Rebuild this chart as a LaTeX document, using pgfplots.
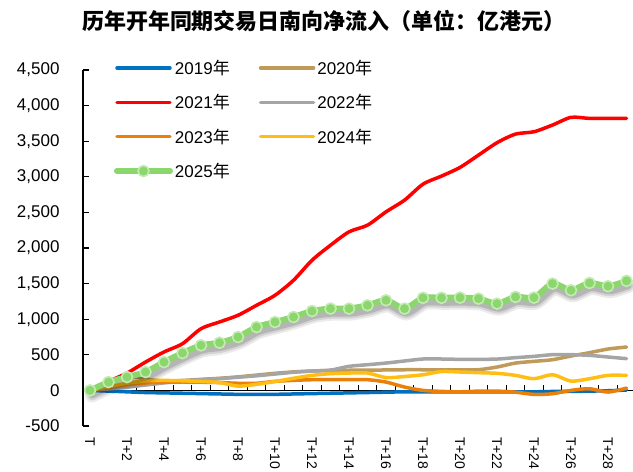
\documentclass[border=0pt]{standalone}
\usepackage{fontspec}
\usepackage{pgfplots}
\usepackage{pgfplotstable}
\pgfplotsset{compat=1.18}
\setmainfont{Liberation Sans}
\newfontfamily\cjk{Noto Sans CJK SC}

\definecolor{c19}{RGB}{0,112,192}
\definecolor{c20}{RGB}{191,154,88}
\definecolor{c21}{RGB}{255,0,0}
\definecolor{c22}{RGB}{165,165,165}
\definecolor{c23}{RGB}{234,128,10}
\definecolor{c24}{RGB}{255,190,20}
\definecolor{c25}{RGB}{140,214,110}
\definecolor{c25m}{RGB}{195,236,178}

\pgfplotstableread{
i  y19  y20  y21  y22  y23  y24  y25
0  0    0    0    0    0    0    0
1  -10  110  127  20   40   50   117
2  -20  200  243  45   80   100  187
3  -30  160  398  75   105  135  258
4  -35  130  540  105  115  140  398
5  -40  140  656  130  118  135  525
6  -45  155  867  150  115  125  633
7  -50  170  961  165  110  110  670
8  -55  190  1055 185  100  60   750
9  -55  215  1195 205  100  85   890
10 -55  240  1336 230  127  125  960
11 -50  260  1547 255  141  170  1031
12 -45  272  1828 272  150  211  1115
13 -40  280  2039 285  150  235  1149
14 -35  283  2227 338  150  244  1149
15 -30  285  2321 361  150  244  1195
16 -25  287  2508 384  117  180  1266
17 -20  290  2672 413  47   195  1149
18 -20  290  2897 441  0    220  1300
19 -20  290  3010 441  -14  265  1300
20 -20  290  3132 436  -20  258  1303
21 -20  291  3305 436  -10  249  1289
22 -20  328  3479 440  -10  240  1219
23 -20  384  3600 460  -25  211  1313
24 -20  408  3633 478  -56  164  1303
25 -15  431  3727 502  -47  220  1500
26 -15  483  3835 502  0    131  1406
27 -10  530  3820 492  23   164  1509
28 -5   581  3820 469  -23  211  1463
29 5    609  3820 446  33   211  1538
}\data

\begin{document}
\begin{tikzpicture}
\begin{axis}[
  at={(83pt,46pt)}, anchor=south west,
  scale only axis, width=550pt, height=356pt,
  xmin=-0.38, xmax=29.35, ymin=-500, ymax=4500,
  axis lines=left, axis line style={-},
  x axis line style={draw=none},
  y axis line style={line width=1.5pt},
  xtick={0,2,...,28},
  xticklabels={T,T+2,T+4,T+6,T+8,T+10,T+12,T+14,T+16,T+18,T+20,T+22,T+24,T+26,T+28},
  ytick={-500,0,...,4500},
  tick align=inside,
  major tick length=6pt,
  ytick style={black, line width=1.2pt},
  xtick style={draw=none},
  yticklabel shift=20pt,
  yticklabel style={font=\fontsize{17}{17}\selectfont},
  xticklabel style={rotate=-90, anchor=west, inner sep=0pt, font=\fontsize{14}{14}\selectfont},
  xticklabel shift=11pt,
  /pgf/number format/1000 sep={,},
  /pgf/number format/assume math mode=true,
  clip=false,
  legend columns=2,
  legend cell align=left,
  legend style={at={(0.056,1.034)}, anchor=north west, draw=none, fill=none, inner sep=0pt,
    font=\fontsize{17}{17}\selectfont, row sep=14.5pt,
    /tikz/every even column/.append style={column sep=27pt}},
  legend image code/.code={\draw[mark repeat=2,mark phase=2,#1] plot coordinates {(0pt,0pt) (26.5pt,0pt) (53pt,0pt)};},
  every axis plot/.append style={smooth, tension=0.45, line join=round, line cap=round},
]
\draw[black, line width=1.6pt] (axis cs:-0.38,0) -- (axis cs:29.35,0);
\pgfplotsinvokeforeach{0,...,28}{\draw[black, line width=1.2pt] (axis cs:#1.5,0) -- ([yshift=5pt]axis cs:#1.5,0);}
\addplot[c19, line width=3.5pt, no marks] table[x=i,y=y19] {\data};
\addlegendentry{2019{\cjk 年}}
\addplot[c20, line width=3.5pt, no marks] table[x=i,y=y20] {\data};
\addlegendentry{2020{\cjk 年}}
\addplot[c21, line width=3.5pt, no marks] table[x=i,y=y21] {\data};
\addlegendentry{2021{\cjk 年}}
\addplot[c22, line width=3.5pt, no marks] table[x=i,y=y22] {\data};
\addlegendentry{2022{\cjk 年}}
\addplot[c23, line width=3.5pt, no marks] table[x=i,y=y23] {\data};
\addlegendentry{2023{\cjk 年}}
\addplot[c24, line width=3.5pt, no marks] table[x=i,y=y24] {\data};
\addlegendentry{2024{\cjk 年}}
\addplot[forget plot, black, opacity=0.08, line width=14pt, no marks, xshift=2pt, yshift=-5pt] table[x=i,y=y25] {\data};
\addplot[forget plot, black, opacity=0.10, line width=10pt, no marks, xshift=2pt, yshift=-5pt] table[x=i,y=y25] {\data};
\addplot[forget plot, black, opacity=0.14, line width=6pt, no marks, xshift=2pt, yshift=-5pt] table[x=i,y=y25] {\data};
\addplot[c25, line width=6pt, mark=*, mark size=5.5pt, mark options={draw=c25m, fill=none, line width=1.6pt}] table[x=i,y=y25] {\data};
\addlegendentry{2025{\cjk 年}}
\end{axis}
\node[font={\fontsize{22}{22}\cjk\bfseries}] at (324pt,451pt) {历年开年同期交易日南向净流入（单位：亿港元）};
\pgfresetboundingbox
\path[use as bounding box] (0,0) rectangle (633pt,472pt);
\end{tikzpicture}
\end{document}
